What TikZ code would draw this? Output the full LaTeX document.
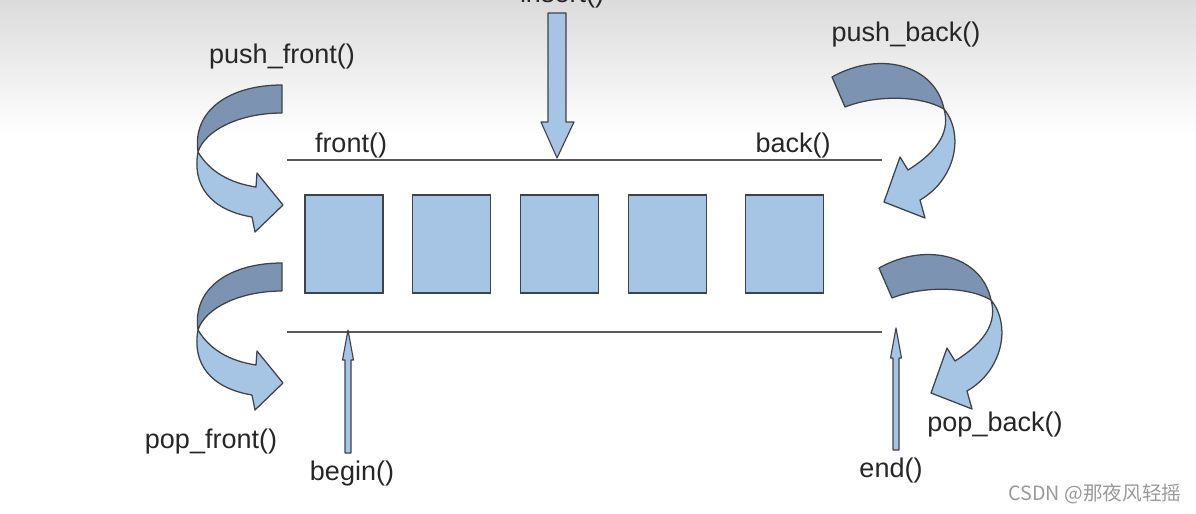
\documentclass[tikz,border=0pt]{standalone}
\usepackage{fontspec}
\setmainfont{Liberation Sans}
\newfontfamily\cjkfont{Noto Sans CJK SC}
\usetikzlibrary{positioning}
\definecolor{cellblue}{RGB}{166,196,228}
\definecolor{ribbondark}{RGB}{124,148,178}
\definecolor{edgegray}{RGB}{62,66,74}
\definecolor{railgray}{RGB}{88,88,88}

\begin{document}
\begin{tikzpicture}[x=0.025cm, y=-0.025cm,
    node distance=0.715cm,
    cell/.style={draw=edgegray, thick, fill=cellblue, minimum width=1.95cm, minimum height=2.45cm},
    rail/.style={draw=railgray, line width=1.1pt},
    func/.style={font=\fontsize{19.2}{23}\selectfont, text=black!85, inner sep=0pt, anchor=base},
    blockarrow/.style={draw=edgegray, line width=0.8pt, line join=round, fill=cellblue},
    ribbonback/.style={draw=edgegray, line width=0.9pt, line join=round, fill=ribbondark},
    ribbonfront/.style={draw=edgegray, line width=0.9pt, line join=round, fill=cellblue},
    leftturn/.pic={
        \path[ribbonback] (0,0) -- (0,28) .. controls (-42,28) and (-77,45) .. (-84,67)
            .. controls (-90,25) and (-52,0) .. (0,0) -- cycle;
        \path[ribbonfront] (-84,67) .. controls (-72,87) and (-52,98) .. (-26,102) -- (-25,88)
            -- (1,120) -- (-27,147) -- (-30,132) .. controls (-72,125) and (-90,100) .. (-84,67) -- cycle;
    },
    rightturn/.pic={
        \path[ribbonback] (0,0) -- (13,30) .. controls (43,18) and (88,18) .. (112,32)
            .. controls (103,-12) and (48,-27) .. (0,0) -- cycle;
        \path[ribbonfront] (112,32) .. controls (133,58) and (123,103) .. (88,123) -- (93,141)
            -- (52,125) -- (68,80) -- (76,93) .. controls (108,73) and (118,53) .. (112,32) -- cycle;
    }
]
    \useasboundingbox (0,0) rectangle (1196,513);
    \shade[top color=black!14, bottom color=white] (0,0) rectangle (1196,135);

    % the container
    \node[cell] (c1) at (344,244) {};
    \node[cell, right=of c1] (c2) {};
    \node[cell, right=of c2] (c3) {};
    \node[cell, right=of c3] (c4) {};
    \node[cell, right=0.945cm of c4] (c5) {};

    \coordinate (topl) at (287,160);
    \coordinate (topr) at (882,160);
    \coordinate (botl) at (287,332);
    \coordinate (botr) at (882,332);
    \draw[rail] (topl) -- (topr);
    \draw[rail] (botl) -- (botr);

    % labels
    \node[func] (insert) at (562,3) {insert()};
    \node[func] (pushfront) at (282,63) {push\_front()};
    \node[func] (pushback) at (906,42) {push\_back()};
    \node[func] (front) at (351,152) {front()};
    \node[func] (back) at (793,152) {back()};
    \node[func] (popfront) at (211,448) {pop\_front()};
    \node[func] (popback) at (995,431) {pop\_back()};
    \node[func] (begin) at (352,480) {begin()};
    \node[func] (end) at (891,477) {end()};
    \node[anchor=base, inner sep=0pt, text=black!40, font=\cjkfont\fontsize{14}{16}\selectfont] (mark) at (1095,500) {CSDN @那夜风轻摇};

    % straight arrows
    \path[blockarrow] (548,13) -- (566,13) -- (566,122) -- (574,122) -- (557,158) -- (541,122) -- (548,122) -- cycle;
    \path[blockarrow] (345,453) -- (351,453) -- (351,360) -- (353.5,360) -- (348,330) -- (342.5,360) -- (345,360) -- cycle;
    \path[blockarrow] (893,450) -- (899,450) -- (899,358) -- (901.5,358) -- (896,328) -- (890.5,358) -- (893,358) -- cycle;

    % curved arrows
    \pic (pf) at (282,85) {leftturn};
    \pic (pof) at (282,263) {leftturn};
    \pic (pb) at (832,77) {rightturn};
    \pic (pob) at (879,268) {rightturn};
\end{tikzpicture}
\end{document}
